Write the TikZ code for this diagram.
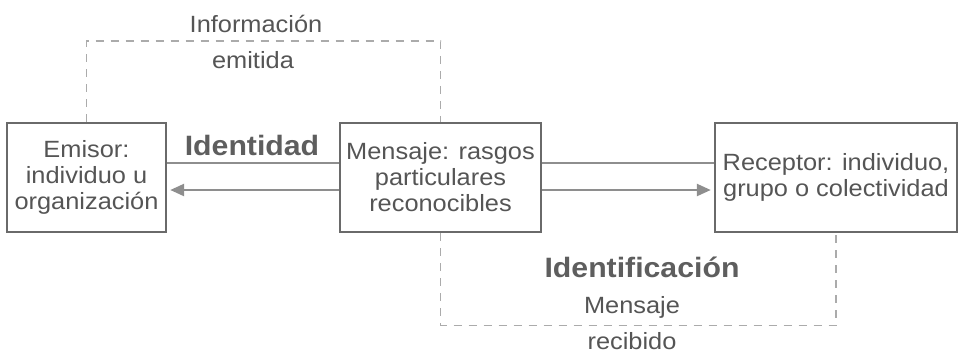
\documentclass[tikz,border=0pt]{standalone}
\usepackage{fontspec}
\setmainfont[FakeStretch=1.08]{Liberation Sans}
\usepackage{tikz}
\usetikzlibrary{arrows.meta}

\definecolor{boxgray}{HTML}{6A6A6A}
\definecolor{linegray}{HTML}{8E8E8E}
\definecolor{dashgray}{HTML}{ABABAB}
\definecolor{txtgray}{HTML}{555555}

\begin{document}
\begin{tikzpicture}[x=1pt, y=-1pt,
  every node/.style={text=txtgray, font=\fontsize{23.5}{26}\selectfont},
  box/.style={draw=boxgray, line width=2.4pt, inner sep=0pt, minimum height=109pt, align=center},
  conn/.style={draw=linegray, line width=2.4pt},
  arr/.style={conn, -{Triangle[length=14pt, width=12pt]}, shorten >=3pt},
  dsh/.style={draw=dashgray, line width=1.4pt, dash pattern=on 8pt off 7pt},
  lbl/.style={anchor=base, inner sep=0pt},
  bold/.style={lbl, font=\fontsize{28}{30}\selectfont\bfseries, text=txtgray!95!white}]
\useasboundingbox (0,0) rectangle (960,360);

\node[box, minimum width=159pt] (emisor) at (86.5,177.5) {Emisor:\\individuo u\\organización};
\node[box, minimum width=201pt] (mensaje) at (440.5,177.5) {Mensaje: rasgos\\particulares\\reconocibles};
\node[box, minimum width=242pt] (receptor) at (836,177.5) {Receptor: individuo,\\grupo o colectividad};

\draw[conn] ([yshift=14.5pt]emisor.east) -- ([yshift=14.5pt]mensaje.west);
\draw[arr] ([yshift=-12.5pt]mensaje.west) -- ([yshift=-12.5pt]emisor.east);
\draw[conn] ([yshift=14.5pt]mensaje.east) -- ([yshift=14.5pt]receptor.west);
\draw[arr] ([yshift=-12.5pt]mensaje.east) -- ([yshift=-12.5pt]receptor.west);

\draw[dsh] (emisor.north) -- ++(0,-81) -| (mensaje.north);
\draw[dsh] (mensaje.south) -- ++(0,92) -| (receptor.south);

\node[bold] (identidad) at (252,155) {Identidad};
\node[bold] (identificacion) at (642,277) {Identificación};

\node[lbl] (info) at (256,32) {Información};
\node[lbl] (emitida) at (253,68) {emitida};
\node[lbl] (msj) at (632,313) {Mensaje};
\node[lbl] (recibido) at (632,349) {recibido};
\end{tikzpicture}
\end{document}
